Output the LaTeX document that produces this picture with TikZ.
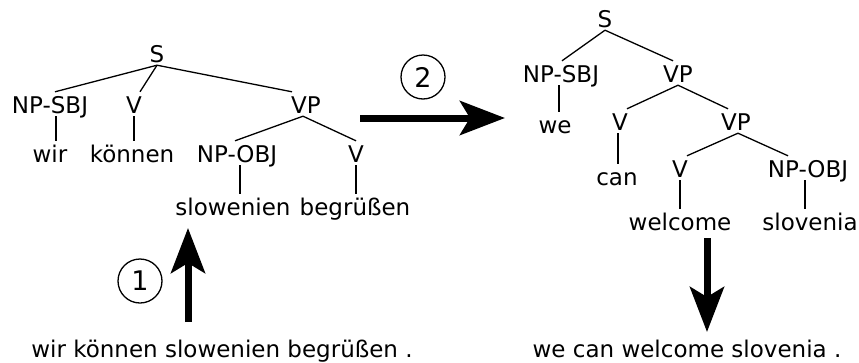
\documentclass[tikz,border=0pt]{standalone}
\usepackage{fontspec}
\setmainfont{DejaVu Sans}
\newfontfamily\treefont{DejaVu Sans}[Scale=2.3]
\newfontfamily\digitfont{DejaVu Sans}[Scale=2.7]
\usetikzlibrary{arrows.meta}
\begin{document}
\begin{tikzpicture}[x=1pt,y=-1pt,
  lbl/.style={font=\treefont, inner xsep=0pt, inner ysep=3pt,
              text height=18pt, text depth=0pt, anchor=base},
  edge/.style={line width=1.3pt},
  bigarrow/.style={line width=7pt, -{Stealth[length=45pt,width=34pt,inset=10pt]}},
  numcircle/.style={draw, circle, line width=1.3pt, minimum size=44pt, inner sep=0pt,
                    font=\digitfont}
]
\useasboundingbox (0,0) rectangle (859,362);

% German parse tree
\node[lbl] (sL) at (157,62) {S};
\node[lbl] (npsbjL) at (50,113) {NP-SBJ};
\node[lbl] (vL) at (134,113) {V};
\node[lbl] (vpL) at (306,113) {VP};
\node[lbl] (wir) at (50,162) {wir};
\node[lbl] (koennen) at (132,162) {können};
\node[lbl] (npobjL) at (237,162) {NP-OBJ};
\node[lbl] (vL2) at (356,162) {V};
\node[lbl] (slow) at (233,215) {slowenien};
\node[lbl] (begr) at (355,215) {begrüßen};

\draw[edge] (sL.south) -- ([xshift=5pt]npsbjL.north);
\draw[edge] (sL.south) -- ([xshift=6pt]vL.north);
\draw[edge] (sL.south) -- ([xshift=-14pt]vpL.north);
\draw[edge] ([xshift=6pt]npsbjL.south) -- ([xshift=6pt]npsbjL.south |- wir.north);
\draw[edge] (vL.south) -- (vL.south |- koennen.north);
\draw[edge] ([xshift=-3pt]vpL.south) -- ([xshift=-2pt]npobjL.north);
\draw[edge] ([xshift=-3pt]vpL.south) -- (vL2.north);
\draw[edge] ([xshift=3pt]npobjL.south) -- ([xshift=3pt]npobjL.south |- slow.north);
\draw[edge] (vL2.south) -- (vL2.south |- begr.north);

% English parse tree
\node[lbl] (sR) at (605,27) {S};
\node[lbl] (npsbjR) at (561,82) {NP-SBJ};
\node[lbl] (vpR) at (678,82) {VP};
\node[lbl] (we) at (555,133) {we};
\node[lbl] (vR) at (620,130) {V};
\node[lbl] (vpR2) at (736,130) {VP};
\node[lbl] (can) at (617,185) {can};
\node[lbl] (vR2) at (680,177) {V};
\node[lbl] (npobjR) at (808,177) {NP-OBJ};
\node[lbl] (welcome) at (680,230) {welcome};
\node[lbl] (slovenia) at (810,230) {slovenia};

\draw[edge] (sR.south) -- ([xshift=1pt]npsbjR.north);
\draw[edge] (sR.south) -- ([xshift=-5pt]vpR.north);
\draw[edge] ([xshift=-2pt]npsbjR.south) -- ([xshift=-2pt]npsbjR.south |- we.north);
\draw[edge] (vpR.south) -- ([xshift=7pt]vR.north);
\draw[edge] (vpR.south) -- ([xshift=-8pt]vpR2.north);
\draw[edge] ([xshift=-2pt]vR.south) -- ([xshift=-2pt]vR.south |- can.north);
\draw[edge] ([xshift=2pt]vpR2.south) -- ([xshift=7pt]vR2.north);
\draw[edge] ([xshift=2pt]vpR2.south) -- ([xshift=-20pt]npobjR.north);
\draw[edge] (vR2.south) -- (vR2.south |- welcome.north);
\draw[edge] ([xshift=-3pt]npobjR.south) -- ([xshift=-3pt]npobjR.south |- slovenia.north);

% Sentences
\node[lbl] (srcsent) at (222,357) {wir können slowenien begrüßen .};
\node[lbl] (tgtsent) at (687,357) {we can welcome slovenia .};

% Processing steps
\coordinate (a1s) at (188,322);
\coordinate (a1e) at (188,228);
\coordinate (a2s) at (360,118);
\coordinate (a2e) at (505,118);
\coordinate (a3s) at (707,238);
\coordinate (a3e) at (707,332);
\draw[bigarrow] (a1s) -- (a1e);
\draw[bigarrow] (a2s) -- (a2e);
\draw[bigarrow] (a3s) -- (a3e);

\node[numcircle] (c1) at (140,281) {1};
\node[numcircle] (c2) at (423,77) {2};
\end{tikzpicture}
\end{document}
